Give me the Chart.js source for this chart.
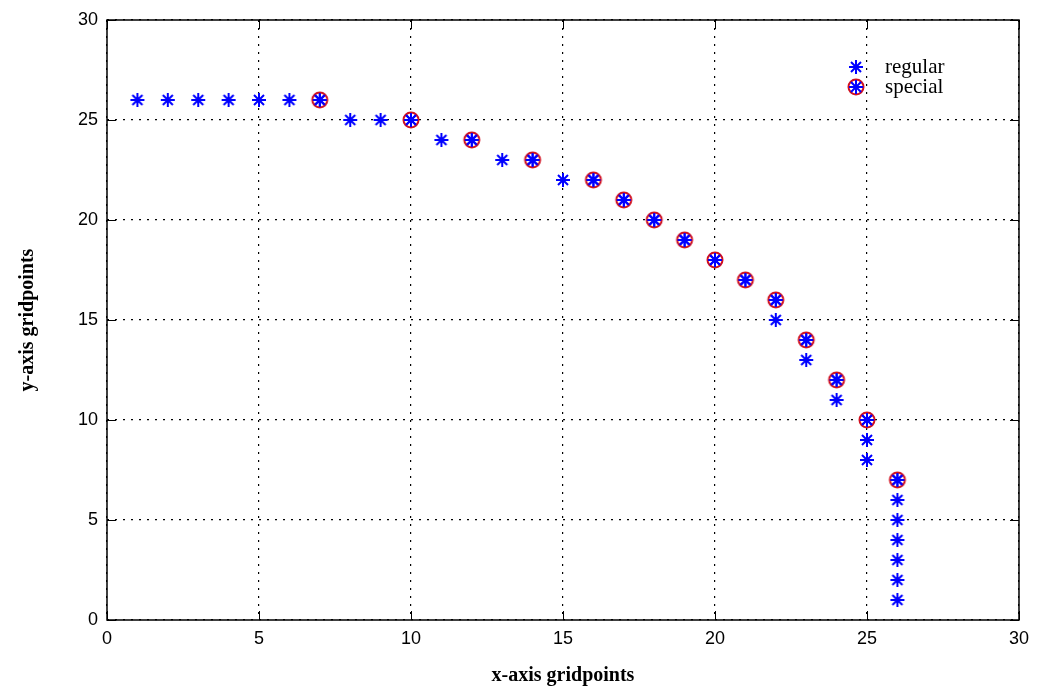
<!DOCTYPE html>
<html>
<head>
<meta charset="utf-8">
<script src="https://cdn.jsdelivr.net/npm/chart.js@4/dist/chart.umd.min.js"></script>
<style>
  html, body { margin: 0; padding: 0; background: #fff; }
  #wrap { width: 1037px; height: 692px; }
</style>
</head>
<body>
<div id="wrap"><canvas id="gridChart"></canvas></div>
<script>
// data
const regularX = [1, 2, 3, 4, 5, 6, 7, 8, 9, 10, 11, 12, 13, 14, 15, 16, 17, 18, 19, 20, 21, 22, 22, 23, 23, 24, 24, 25, 25, 25, 26, 26, 26, 26, 26, 26, 26];
const regularY = [26, 26, 26, 26, 26, 26, 26, 25, 25, 25, 24, 24, 23, 23, 22, 22, 21, 20, 19, 18, 17, 16, 15, 14, 13, 12, 11, 10, 9, 8, 7, 6, 5, 4, 3, 2, 1];
const specialX = [7, 10, 12, 14, 16, 17, 18, 19, 20, 21, 22, 23, 24, 25, 26];
const specialY = [26, 25, 24, 23, 22, 21, 20, 19, 18, 17, 16, 14, 12, 10, 7];
const tickValues = [0, 5, 10, 15, 20, 25, 30];

function drawStar(c, cx, cy) {
    c.strokeStyle = '#0000ff';
    c.lineWidth = 2;
    c.beginPath();
    c.moveTo(cx - 7, cy); c.lineTo(cx + 7, cy);
    c.moveTo(cx, cy - 7); c.lineTo(cx, cy + 7);
    c.moveTo(cx - 5, cy - 5); c.lineTo(cx + 5, cy + 5);
    c.moveTo(cx - 5, cy + 5); c.lineTo(cx + 5, cy - 5);
    c.stroke();
    c.fillStyle = '#0000ff';
    c.beginPath();
    c.arc(cx, cy, 2.5, 0, Math.PI * 2);
    c.fill();
}

// star marker
const starImg = document.createElement('canvas');
starImg.width = 18; starImg.height = 18;
drawStar(starImg.getContext('2d'), 9, 9);

// circle + star marker (special)
const circImg = document.createElement('canvas');
circImg.width = 20; circImg.height = 20;
(function () {
    const c = circImg.getContext('2d');
    c.strokeStyle = '#d01020';
    c.lineWidth = 2;
    c.beginPath();
    c.arc(10, 10, 7.5, 0, Math.PI * 2);
    c.stroke();
    drawStar(c, 10, 10);
})();

// box, inward ticks and legend like the original figure
const frame = {
    id: 'frame',
    afterDatasetsDraw(chart) {
        const { ctx, chartArea: a, scales } = chart;
        ctx.save();
        ctx.strokeStyle = '#000';
        ctx.lineWidth = 1;
        ctx.beginPath();
        tickValues.forEach(v => {
            const x = Math.round(scales.x.getPixelForValue(v)) + 0.5;
            const y = Math.round(scales.y.getPixelForValue(v)) + 0.5;
            ctx.moveTo(x, a.bottom); ctx.lineTo(x, a.bottom - 9);
            ctx.moveTo(x, a.top); ctx.lineTo(x, a.top + 9);
            ctx.moveTo(a.left, y); ctx.lineTo(a.left + 9, y);
            ctx.moveTo(a.right, y); ctx.lineTo(a.right - 9, y);
        });
        ctx.stroke();
        ctx.lineWidth = 1.5;
        ctx.strokeRect(a.left, a.top, a.right - a.left, a.bottom - a.top);

        // legend
        ctx.font = '21px "Liberation Serif", "Times New Roman", serif';
        ctx.fillStyle = '#000';
        ctx.textBaseline = 'middle';
        ctx.drawImage(starImg, 856 - 9, 67 - 9);
        ctx.fillText('regular', 885, 67);
        ctx.drawImage(circImg, 856 - 10, 87 - 10);
        ctx.fillText('special', 885, 87);
        ctx.restore();
    }
};

const toPoints = (xs, ys) => xs.map((x, i) => ({ x: x, y: ys[i] }));

new Chart(document.getElementById('gridChart'), {
    type: 'scatter',
    data: {
        datasets: [
            {
                label: 'special',
                data: toPoints(specialX, specialY),
                pointStyle: circImg,
                pointRadius: 10
            },
            {
                label: 'regular',
                data: toPoints(regularX, regularY),
                pointStyle: starImg,
                pointRadius: 9
            }
        ]
    },
    plugins: [frame],
    options: {
        responsive: true,
        maintainAspectRatio: false,
        animation: false,
        layout: { padding: { left: 12, right: 17, top: 20, bottom: 0 } },
        plugins: {
            legend: { display: false },
            tooltip: { enabled: false }
        },
        scales: {
            x: {
                type: 'linear',
                min: 0,
                max: 30,
                afterBuildTicks: s => { s.ticks = tickValues.map(v => ({ value: v })); },
                afterFit: s => { s.height = 72; },
                grid: {
                    color: '#000',
                    lineWidth: 1.2,
                    drawTicks: false
                },
                border: { display: false, dash: [2, 6] },
                ticks: {
                    color: '#000',
                    padding: 8,
                    maxRotation: 0,
                    font: { family: '"Liberation Sans", Arial, sans-serif', size: 18 }
                },
                title: {
                    display: true,
                    text: 'x-axis gridpoints',
                    color: '#000',
                    padding: { top: 12 },
                    font: { family: '"Liberation Serif", "Times New Roman", serif', size: 20, weight: 'bold' }
                }
            },
            y: {
                type: 'linear',
                min: 0,
                max: 30,
                afterBuildTicks: s => { s.ticks = tickValues.map(v => ({ value: v })); },
                afterFit: s => { s.width = 95; },
                grid: {
                    color: '#000',
                    lineWidth: 1.2,
                    drawTicks: false
                },
                border: { display: false, dash: [2, 6] },
                ticks: {
                    color: '#000',
                    padding: 9,
                    font: { family: '"Liberation Sans", Arial, sans-serif', size: 18 }
                },
                title: {
                    display: true,
                    text: 'y-axis gridpoints',
                    color: '#000',
                    padding: { bottom: 18 },
                    font: { family: '"Liberation Serif", "Times New Roman", serif', size: 20, weight: 'bold' }
                }
            }
        }
    }
});
</script>
</body>
</html>
